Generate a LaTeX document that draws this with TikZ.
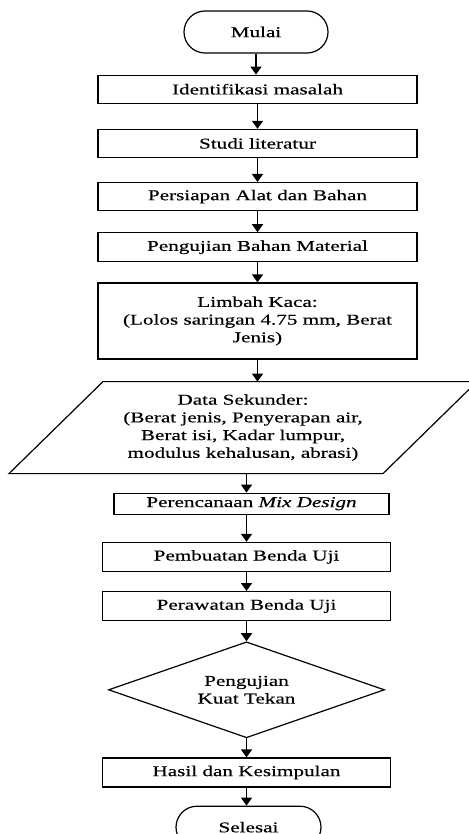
\documentclass[tikz,border=0pt]{standalone}
\usepackage{fontspec}
\setmainfont{Liberation Serif}[FakeStretch=1.41,FakeBold=0.4]
\usepackage{tikz}
\usetikzlibrary{positioning,shapes.geometric,arrows.meta}
\tikzset{d/.style={line width=1.2pt}}
\tikzset{arr/.style={line width=1.6pt,-{Triangle[width=11pt,length=8pt]}}}

\begin{document}
\fontsize{15}{17.7}\selectfont
\begin{tikzpicture}[x=1pt,y=-1pt,
boxnode/.style={rectangle, draw=black, d, minimum width=319pt, minimum height=28pt, inner sep=2pt, align=center},
termnode/.style={rectangle, rounded corners=21pt, draw=black, d, minimum width=144pt, minimum height=42pt, align=center},
datanode/.style={rectangle, minimum width=374pt, minimum height=92pt, outer sep=0pt, inner sep=0pt, align=center},
decnode/.style={diamond, draw=black, d, aspect=2.9, minimum width=276pt, minimum height=96pt, inner sep=0pt, align=center},
]
\useasboundingbox (0,0) rectangle (468,834);
%Nodes
\node[termnode]  (mulai)  at (256,32)                                   {Mulai};
\node[boxnode]   (identifikasi) [below=21pt of mulai, xshift=1.5pt]      {Identifikasi masalah};
\node[boxnode]   (studi)        [below=25pt of identifikasi]             {Studi literatur};
\node[boxnode]   (persiapan)    [below=24pt of studi]                    {Persiapan Alat dan Bahan};
\node[boxnode]   (bahan)        [below=21pt of persiapan, minimum height=29pt] {Pengujian Bahan Material};
\node[boxnode]   (limbah)       [below=20pt of bahan, minimum height=76pt] {Limbah Kaca:\\(Lolos saringan 4.75 mm, Berat\\Jenis)};
\node[datanode]  (datasek)      [below=22pt of limbah, xshift=-14.5pt]   {Data Sekunder:\\(Berat jenis, Penyerapan air,\\Berat isi, Kadar lumpur,\\modulus kehalusan, abrasi)};
\node[boxnode]   (rencana)      [below=19pt of datasek, xshift=8.5pt, minimum width=275pt, minimum height=21pt] {Perencanaan \emph{Mix Design}};
\node[boxnode]   (pembuatan)    [below=27pt of rencana, xshift=-5pt, minimum width=288pt, minimum height=29pt] {Pembuatan Benda Uji};
\node[boxnode]   (perawatan)    [below=19pt of pembuatan, minimum width=288pt, minimum height=29pt] {Perawatan Benda Uji};
\node[decnode]   (uji)          [below=20pt of perawatan]                {Pengujian\\Kuat Tekan};
\node[boxnode]   (hasil)        [below=19pt of uji, minimum width=288pt, minimum height=29pt] {Hasil dan Kesimpulan};
\node[termnode]  (selesai)      [below=18pt of hasil, xshift=2pt, minimum width=145pt] {Selesai};

%Data box
\draw[d] ([xshift=-47pt]datasek.south west) -- ([xshift=47pt]datasek.north west) -- ([xshift=47pt]datasek.north east) -- ([xshift=-47pt]datasek.south east) -- cycle;

%Lines
\draw[arr] (mulai.south) -- (mulai.south |- identifikasi.north);
\draw[arr] (identifikasi.south) -- (studi.north);
\draw[arr] (studi.south) -- (persiapan.north);
\draw[arr] (persiapan.south) -- (bahan.north);
\draw[arr] (bahan.south) -- (limbah.north);
\draw[arr] (limbah.south) -- (limbah.south |- datasek.north);
\draw[arr] (pembuatan.north |- datasek.south) -- (pembuatan.north |- rencana.north);
\draw[arr] (pembuatan.north |- rencana.south) -- (pembuatan.north);
\draw[arr] (pembuatan.south) -- (perawatan.north);
\draw[arr] (perawatan.south) -- (uji.north);
\draw[arr] (uji.south) -- (hasil.north);
\draw[arr] (hasil.south) -- (hasil.south |- selesai.north);
\end{tikzpicture}
\end{document}
